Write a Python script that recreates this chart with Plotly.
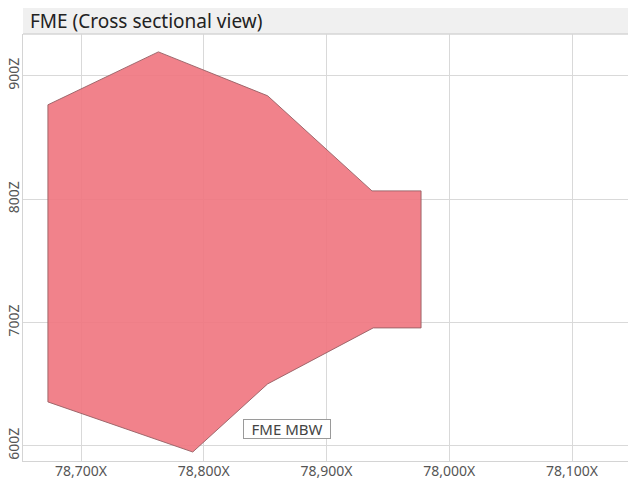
import plotly.graph_objects as go

# Polygon outline (easting X, elevation Z)
section_x = [78673, 78763, 78852, 78937, 78977, 78977, 78938, 78852, 78791, 78673, 78673]
section_z = [876.6, 919.5, 883.9, 806.8, 806.8, 695.7, 695.7, 650.3, 595.1, 635.7, 876.6]

x_tick_vals = [78700, 78800, 78900, 79000, 79100]
x_tick_text = ["78,700X", "78,800X", "78,900X", "78,000X", "78,100X"]
z_tick_vals = [600, 700, 800, 900]
z_tick_text = ["600Z", "700Z", "800Z", "900Z"]

label_text = "FME MBW"
label_x = 78868
label_z = 614
title_text = "FME (Cross sectional view)"

fig = go.Figure()
fig.add_trace(go.Scatter(
    x=section_x, y=section_z, mode="lines", fill="toself",
    fillcolor="rgba(240,116,126,0.9)",
    line=dict(color="rgba(150,95,100,0.9)", width=1),
    hoverinfo="skip", showlegend=False,
))

fig.add_annotation(
    x=label_x, y=label_z, text=label_text, showarrow=False,
    font=dict(family="Noto Sans", size=15, color="#444444"),
    width=84, height=16,
    bgcolor="white", bordercolor="#9a9a9a", borderwidth=1, borderpad=1,
)

# title bar
fig.add_shape(type="rect", xref="paper", yref="paper", x0=0, x1=1, y0=1, y1=1.061,
              fillcolor="#f0f0f0", line=dict(width=0), layer="below")
fig.add_shape(type="line", xref="paper", yref="paper", x0=0, x1=1, y0=1, y1=1,
              line=dict(color="#d6d6d6", width=1.5))
fig.add_annotation(
    xref="paper", yref="paper", x=0.008, y=1.031, xanchor="left", yanchor="middle",
    text=title_text, showarrow=False,
    font=dict(family="Noto Sans", size=19, color="#222222"),
)

fig.update_xaxes(
    range=[78652.7, 79145.6], tickvals=x_tick_vals, ticktext=x_tick_text,
    showgrid=True, gridcolor="#d9d9d9", gridwidth=1, zeroline=False,
    showline=True, linecolor="#d4d4d4", linewidth=1,
    tickfont=dict(family="Noto Sans", size=14, color="#555555"),
    ticks="", ticklen=0, ticklabelstandoff=-3, automargin=False,
)
fig.update_yaxes(
    range=[587.8, 934], tickvals=z_tick_vals, ticktext=z_tick_text,
    showgrid=True, gridcolor="#d9d9d9", gridwidth=1, zeroline=False,
    showline=True, linecolor="#d4d4d4", linewidth=1,
    tickangle=-90,
    tickfont=dict(family="Noto Sans", size=14, color="#555555"),
    ticks="", ticklen=0, ticklabelstandoff=-3, automargin=False,
)

fig.update_layout(
    width=628, height=480,
    margin=dict(l=23, r=0, t=34, b=19),
    paper_bgcolor="white", plot_bgcolor="white",
)

fig.write_html("out.html", config={"displayModeBar": False},
               post_script="document.body.style.margin='0px';")
